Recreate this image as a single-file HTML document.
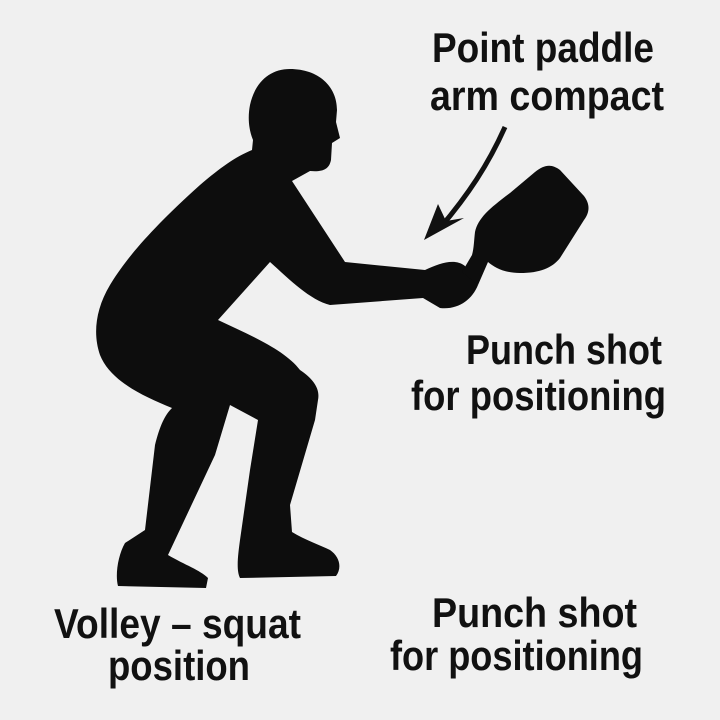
<!DOCTYPE html>
<html><head><meta charset="utf-8"><style>
html,body{margin:0;padding:0;background:#f0f0f0;}
svg{display:block}
text{font-family:"Liberation Sans",sans-serif;font-weight:bold;fill:#111;font-size:42px}
</style></head><body>
<svg width="720" height="720" viewBox="0 0 720 720">
<rect width="720" height="720" fill="#f0f0f0"/>
<g fill="#0d0d0d">
<path d="M290,69 C318,69 337,86 337,110 L336,122 L340,138 L332,143 L331,160 C329,170 322,172 310,171 L292,181
L345,262 L425,270 C440,263 455,258 465,266 L478,285 C472,300 458,310 440,308 L423,298 L330,305 C310,300 290,280 270,262
L218,320 C250,335 285,350 300,370 C315,380 320,390 318,400 L315,420 L290,505 L292,532 C305,540 320,545 330,550 C340,557 342,568 336,576
L240,578 C236,570 238,555 240,540 L250,470 L258,420 L230,405 L215,455 L168,555 C185,565 200,570 208,578 L206,588 L118,586 C115,575 118,555 125,543
L145,530 L155,445 C160,425 165,415 172,408 C140,395 110,380 100,355 C93,335 95,310 110,285 C125,260 150,230 200,185 C220,168 235,157 252,150 L253,140 C248,128 248,115 250,105 C255,82 270,69 290,69 Z"/>
<path d="M475,232 C478,218 490,208 510,193 L535,172 C545,164 552,164 560,170 L584,196 C590,204 590,212 584,220 L560,258 C552,268 540,273 520,273 C505,273 495,268 488,262 L478,285 L462,272 L472,255 C474,248 474,240 475,232 Z"/>
</g>
<path d="M505,127 C488,165 468,195 440,228" stroke="#111" stroke-width="5" fill="none"/>
<polygon points="424,240 438,204 446,221 464,218" fill="#111"/>
<text x="432" y="62" textLength="222" lengthAdjust="spacingAndGlyphs">Point paddle</text>
<text x="430" y="110" textLength="234" lengthAdjust="spacingAndGlyphs">arm compact</text>
<text x="466" y="364" textLength="196" lengthAdjust="spacingAndGlyphs">Punch shot</text>
<text x="411" y="410" textLength="255" lengthAdjust="spacingAndGlyphs">for positioning</text>
<text x="54" y="638" textLength="247" lengthAdjust="spacingAndGlyphs">Volley – squat</text>
<text x="108" y="680" textLength="142" lengthAdjust="spacingAndGlyphs">position</text>
<text x="432" y="627" textLength="205" lengthAdjust="spacingAndGlyphs">Punch shot</text>
<text x="390" y="670" textLength="253" lengthAdjust="spacingAndGlyphs">for positioning</text>
</svg>
</body></html>
